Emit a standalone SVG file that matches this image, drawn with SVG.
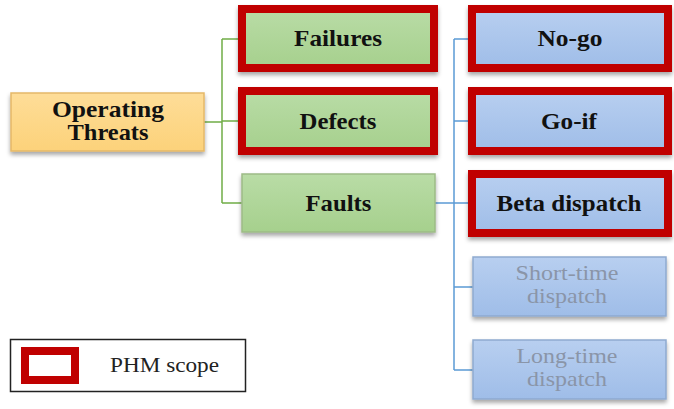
<svg xmlns="http://www.w3.org/2000/svg" width="674" height="409" viewBox="0 0 674 409">
<defs>
  <linearGradient id="gOrange" x1="0" y1="0" x2="0" y2="1">
    <stop offset="0" stop-color="#fedd98"/>
    <stop offset="1" stop-color="#fcd27a"/>
  </linearGradient>
  <linearGradient id="gGreen" x1="0" y1="0" x2="0" y2="1">
    <stop offset="0" stop-color="#b9dca6"/>
    <stop offset="1" stop-color="#a6d08d"/>
  </linearGradient>
  <linearGradient id="gBlue" x1="0" y1="0" x2="0" y2="1">
    <stop offset="0" stop-color="#b8cff0"/>
    <stop offset="1" stop-color="#9fbde8"/>
  </linearGradient>
  <filter id="sh" x="-10%" y="-10%" width="120%" height="140%">
    <feDropShadow dx="0" dy="3" stdDeviation="2" flood-color="#000" flood-opacity="0.35"/>
  </filter>
</defs>
<style>
  .orange { fill: url(#gOrange); stroke: #e5b868; stroke-width: 1.5; filter: url(#sh); }
  .green { fill: url(#gGreen); filter: url(#sh); }
  .blue { fill: url(#gBlue); filter: url(#sh); }
  .scope { stroke: #c00000; stroke-width: 8; }
  .thinG { stroke: #9dbb86; stroke-width: 1.5; }
  .thinB { stroke: #8eaad0; stroke-width: 1.5; }
  text { font-family: "Liberation Serif", Tinos, "Times New Roman", "Noto Serif", "DejaVu Serif", FreeSerif, serif; }
  .lbl { font-weight: bold; font-size: 24px; fill: #111; text-anchor: middle; }
  .two { font-size: 23px; }
  .dim { font-size: 22px; fill: #8a95a8; text-anchor: middle; }
  .leg { font-size: 21px; fill: #222; }
  .cg { stroke: #70ad47; stroke-width: 1.5; fill: none; }
  .cb { stroke: #5b9bd5; stroke-width: 1.5; fill: none; }
</style>
<rect width="674" height="409" fill="#ffffff"/>
<g id="connectors">
  <path class="cg" d="M204 122 H222 M222 39 V203 M222 39 H238 M222 121 H238 M222 203 H242"/>
  <path class="cb" d="M435 203 H468 M454 39 V370 M454 39 H468 M454 121 H468 M454 287 H473 M454 370 H473"/>
</g>
<g id="operating-threats">
  <rect class="orange" x="11" y="93" width="193" height="58"/>
  <text class="lbl two" x="108" y="117" textLength="112" lengthAdjust="spacingAndGlyphs">Operating</text>
  <text class="lbl two" x="108" y="140" textLength="81" lengthAdjust="spacingAndGlyphs">Threats</text>
</g>
<g id="failures">
  <rect class="green scope" x="242" y="9" width="192" height="59"/>
  <text class="lbl" x="338" y="46" textLength="88" lengthAdjust="spacingAndGlyphs">Failures</text>
</g>
<g id="defects">
  <rect class="green scope" x="242" y="91" width="192" height="60"/>
  <text class="lbl" x="338" y="129" textLength="77" lengthAdjust="spacingAndGlyphs">Defects</text>
</g>
<g id="faults">
  <rect class="green thinG" x="242" y="174" width="193" height="58"/>
  <text class="lbl" x="338.5" y="211" textLength="66" lengthAdjust="spacingAndGlyphs">Faults</text>
</g>
<g id="no-go">
  <rect class="blue scope" x="472" y="9" width="196" height="59"/>
  <text class="lbl" x="570" y="46" textLength="65" lengthAdjust="spacingAndGlyphs">No-go</text>
</g>
<g id="go-if">
  <rect class="blue scope" x="472" y="91" width="196" height="60"/>
  <text class="lbl" x="569" y="129" textLength="56" lengthAdjust="spacingAndGlyphs">Go-if</text>
</g>
<g id="beta-dispatch">
  <rect class="blue scope" x="472" y="174" width="196" height="59"/>
  <text class="lbl" x="569" y="211" textLength="145" lengthAdjust="spacingAndGlyphs">Beta dispatch</text>
</g>
<g id="short-time-dispatch">
  <rect class="blue thinB" x="473" y="257" width="193" height="59"/>
  <text class="dim" x="567" y="280" textLength="103" lengthAdjust="spacingAndGlyphs">Short-time</text>
  <text class="dim" x="567" y="303" textLength="80" lengthAdjust="spacingAndGlyphs">dispatch</text>
</g>
<g id="long-time-dispatch">
  <rect class="blue thinB" x="473" y="340" width="193" height="59"/>
  <text class="dim" x="567" y="363" textLength="101" lengthAdjust="spacingAndGlyphs">Long-time</text>
  <text class="dim" x="567" y="386" textLength="80" lengthAdjust="spacingAndGlyphs">dispatch</text>
</g>
<g id="legend">
  <rect x="10.5" y="339.5" width="235" height="52" fill="#ffffff" stroke="#222" stroke-width="1.5"/>
  <rect x="25" y="351" width="50" height="29" fill="#ffffff" stroke="#c00000" stroke-width="8"/>
  <text class="leg" x="110" y="372" textLength="109" lengthAdjust="spacingAndGlyphs">PHM scope</text>
</g>
</svg>
